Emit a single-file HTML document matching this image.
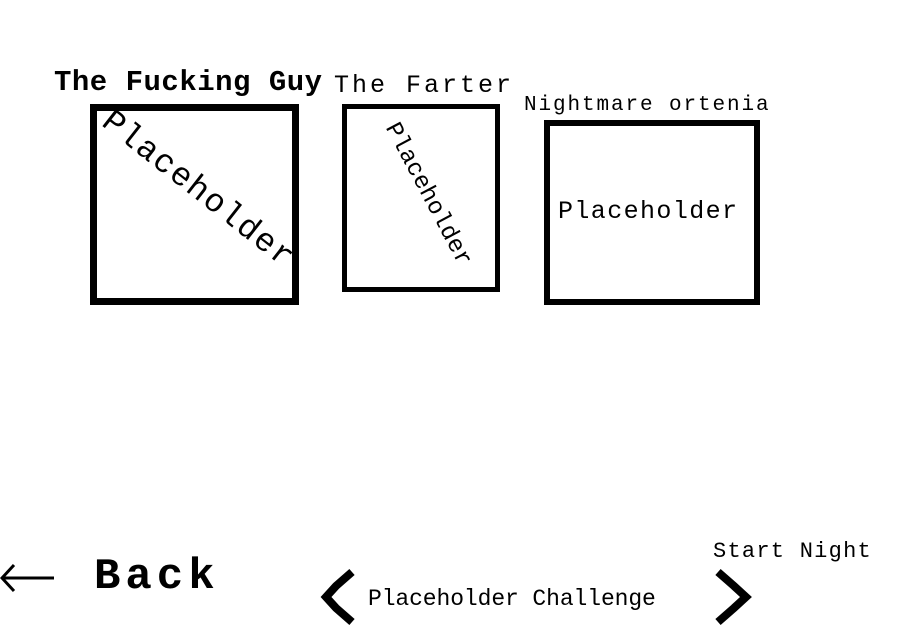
<!DOCTYPE html>
<html><head><style>
body{margin:0;width:900px;height:630px;background:#fff;position:relative;overflow:hidden;font-family:"Liberation Mono","DejaVu Sans Mono",monospace;color:#000}
.a{position:absolute;white-space:nowrap;line-height:1}
.b{position:absolute;border:solid #000;box-sizing:border-box}
</style></head><body>
<div class="a" style="left:54px;top:68px;font-size:29px;font-weight:bold;letter-spacing:0.5px">The Fucking Guy</div>
<div class="a" style="left:334px;top:73px;font-size:25px;letter-spacing:3px">The Farter</div>
<div class="a" style="left:524px;top:95px;font-size:21px;letter-spacing:1.9px">Nightmare ortenia</div>
<div class="b" style="left:90px;top:104px;width:209px;height:201px;border-width:7px"></div>
<div class="b" style="left:342px;top:104px;width:158px;height:188px;border-width:5px"></div>
<div class="b" style="left:544px;top:120px;width:216px;height:185px;border-width:6px"></div>
<div class="a" style="left:198px;top:190px;font-size:33px;letter-spacing:1.5px;transform:translate(-50%,-50%) rotate(38deg)">Placeholder</div>
<div class="a" style="left:427px;top:195px;font-size:24px;letter-spacing:0px;transform:translate(-50%,-50%) rotate(62deg)">Placeholder</div>
<div class="a" style="left:558px;top:199px;font-size:25px;letter-spacing:1.4px">Placeholder</div>
<svg style="position:absolute;left:0;top:0" width="900" height="630">
<g fill="none" stroke="#000">
<path d="M2 578 H54 M14 565 L2 578 L14 591" stroke-width="3"/>
<path d="M352 572 L336 586 L326 597 L336 608 L352 622" stroke-width="8"/>
<path d="M718 572 L734 586 L746 597 L734 608 L718 622" stroke-width="8"/>
</g>
</svg>
<div class="a" style="left:94px;top:555px;font-size:44px;font-weight:bold;letter-spacing:5px">Back</div>
<div class="a" style="left:368px;top:588px;font-size:23px;letter-spacing:-0.1px">Placeholder Challenge</div>
<div class="a" style="left:713px;top:541px;font-size:22px;letter-spacing:1.25px">Start Night</div>
</body></html>
